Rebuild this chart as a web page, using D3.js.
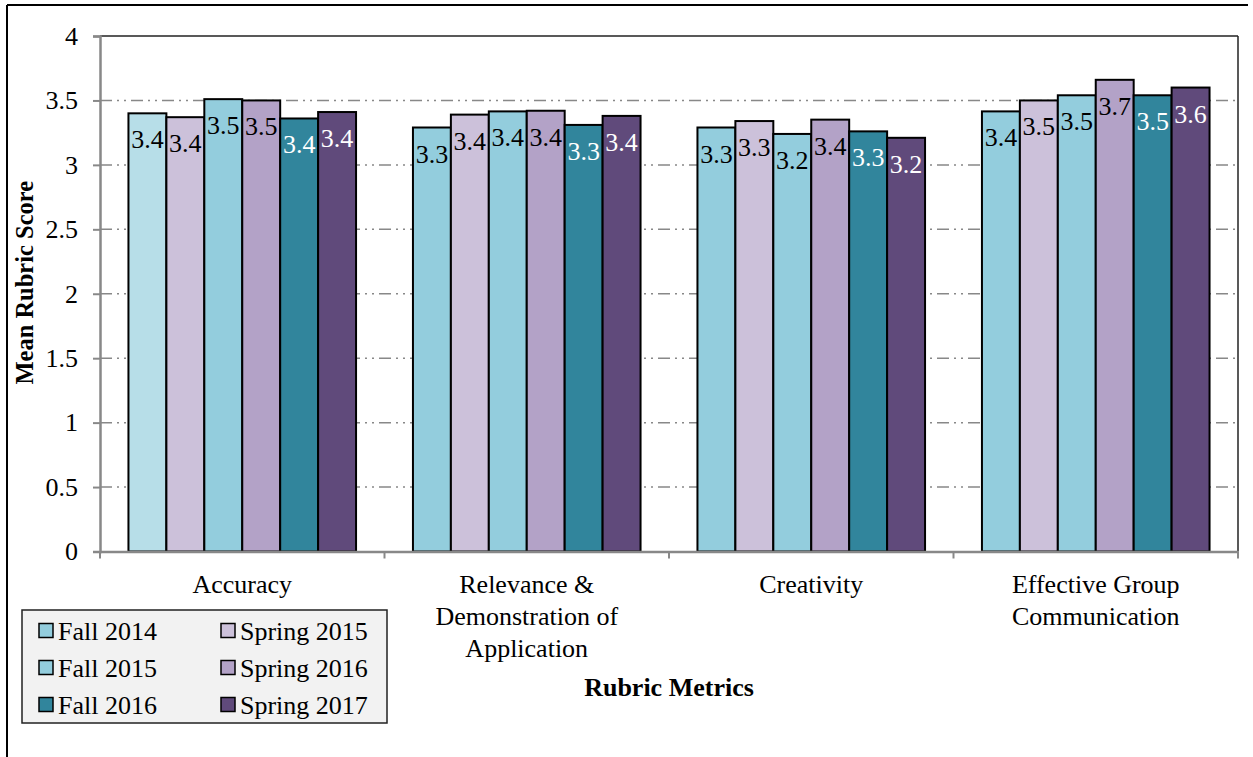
<!DOCTYPE html>
<html>
<head>
<meta charset="utf-8">
<script src="https://cdn.jsdelivr.net/npm/d3@7"></script>
<style>
  html, body { margin: 0; padding: 0; background: #fff; }
  svg { display: block; }
  text { font-family: "Liberation Serif", "Times New Roman", serif; }
</style>
</head>
<body>
<svg id="chart" width="1253" height="757"></svg>
<script>
// ---- data ----
const categories = ["Accuracy", "Relevance & Demonstration of Application", "Creativity", "Effective Group Communication"];
const categoryLines = [["Accuracy"], ["Relevance &", "Demonstration of", "Application"], ["Creativity"], ["Effective Group", "Communication"]];
const seriesNames = ["Fall 2014", "Spring 2015", "Fall 2015", "Spring 2016", "Fall 2016", "Spring 2017"];
const fall2014   = [3.40, 3.29, 3.29, 3.415];
const spring2015 = [3.37, 3.39, 3.34, 3.50];
const fall2015   = [3.51, 3.415, 3.24, 3.54];
const spring2016 = [3.50, 3.42, 3.351, 3.66];
const fall2016   = [3.36, 3.31, 3.26, 3.54];
const spring2017 = [3.41, 3.38, 3.21, 3.60];
const seriesValues = [fall2014, spring2015, fall2015, spring2016, fall2016, spring2017];
const seriesColors = ["#93CDDD", "#CCC1DA", "#93CDDD", "#B3A2C7", "#31859C", "#604A7B"];
const labelColors  = ["#000", "#000", "#000", "#000", "#fff", "#fff"];
// first Accuracy bar is drawn in a lighter blue in the original
const pointColorOverride = { "0-0": "#B7DEE8" };
const yTicks = [0, 0.5, 1, 1.5, 2, 2.5, 3, 3.5, 4];
const yTickLabels = ["0", "0.5", "1", "1.5", "2", "2.5", "3", "3.5", "4"];

// ---- layout ----
const svg = d3.select("#chart");
const pLeft = 100, pRight = 1238, pTop = 36, pBottom = 551.5;
const FS = 26;
const SERIF = "'Liberation Serif', 'Times New Roman', serif";

// outer frame (top and left edges visible)
svg.append("line").attr("x1", 7).attr("x2", 1248).attr("y1", 5).attr("y2", 5).attr("stroke", "#000").attr("stroke-width", 2);
svg.append("line").attr("x1", 7).attr("x2", 7).attr("y1", 5).attr("y2", 757).attr("stroke", "#000").attr("stroke-width", 2);

const x0 = d3.scaleBand().domain(categories).range([pLeft, pRight]).paddingInner(0).paddingOuter(0);
const x1 = d3.scaleBand().domain(seriesNames).range([0, x0.bandwidth()]).paddingInner(0).paddingOuter(0.75);
const y = d3.scaleLinear().domain([0, 4]).range([pBottom, pTop]);

// gridlines
svg.append("g").selectAll("line").data(yTicks.filter(t => t > 0 && t < 4)).join("line")
  .attr("x1", pLeft).attr("x2", pRight)
  .attr("y1", d => y(d)).attr("y2", d => y(d))
  .attr("stroke", "#888").attr("stroke-width", 1.5)
  .attr("stroke-dasharray", "12,5,2,5,2,5");

// plot border top/right
svg.append("line").attr("x1", pLeft).attr("x2", pRight).attr("y1", pTop).attr("y2", pTop).attr("stroke", "#222").attr("stroke-width", 1.5);
svg.append("line").attr("x1", pRight).attr("x2", pRight).attr("y1", pTop).attr("y2", pBottom).attr("stroke", "#222").attr("stroke-width", 1.5);

// bars
const barData = [];
seriesNames.forEach((s, si) => {
  categories.forEach((c, ci) => {
    barData.push({ s, si, c, ci, v: seriesValues[si][ci] });
  });
});
const bars = svg.append("g");
bars.selectAll("rect").data(barData).join("rect")
  .attr("x", d => x0(d.c) + x1(d.s))
  .attr("y", d => y(d.v))
  .attr("width", x1.bandwidth())
  .attr("height", d => y(0) - y(d.v))
  .attr("fill", d => pointColorOverride[d.si + "-" + d.ci] || seriesColors[d.si])
  .attr("stroke", "#000").attr("stroke-width", 2);

bars.selectAll("text").data(barData).join("text")
  .attr("x", d => x0(d.c) + x1(d.s) + x1.bandwidth() / 2)
  .attr("y", d => y(d.v) + 35)
  .attr("text-anchor", "middle")
  .attr("font-family", SERIF)
  .attr("font-size", FS)
  .attr("fill", d => labelColors[d.si])
  .text(d => d.v.toFixed(1));

// y axis
const yAxis = svg.append("g").attr("transform", `translate(${pLeft},0)`)
  .call(d3.axisLeft(y).tickValues(yTicks).tickFormat((d, i) => yTickLabels[i]).tickSize(7).tickPadding(15));
yAxis.attr("font-family", SERIF);
yAxis.select(".domain").attr("stroke", "#888").attr("stroke-width", 2.5);
yAxis.selectAll(".tick line").attr("stroke", "#888").attr("stroke-width", 2);
yAxis.selectAll(".tick text").attr("font-size", FS).attr("fill", "#000").attr("font-family", SERIF);

// x axis
const xAxis = svg.append("g").attr("transform", `translate(0,${pBottom})`)
  .call(d3.axisBottom(x0).tickValues([]).tickSizeOuter(0));
xAxis.select(".domain").attr("stroke", "#888").attr("stroke-width", 2.5);
const boundaries = [pLeft].concat(categories.map(c => x0(c) + x0.bandwidth()));
svg.append("g").selectAll("line").data(boundaries).join("line")
  .attr("x1", d => d).attr("x2", d => d)
  .attr("y1", pBottom).attr("y2", pBottom + 7)
  .attr("stroke", "#888").attr("stroke-width", 2);

// category labels
const catG = svg.append("g");
categories.forEach((c, ci) => {
  const t = catG.append("text")
    .attr("x", x0(c) + x0.bandwidth() / 2)
    .attr("y", 593)
    .attr("text-anchor", "middle")
    .attr("font-family", SERIF)
    .attr("font-size", FS)
    .attr("fill", "#000");
  categoryLines[ci].forEach((ln, li) => {
    t.append("tspan").attr("x", x0(c) + x0.bandwidth() / 2).attr("y", 593 + li * 32).text(ln);
  });
});

// axis titles
svg.append("text")
  .attr("transform", `translate(33,${(pTop + pBottom) / 2 - 11}) rotate(-90)`)
  .attr("text-anchor", "middle")
  .attr("font-family", SERIF)
  .attr("font-size", 24.5).attr("font-weight", "bold")
  .text("Mean Rubric Score");
svg.append("text")
  .attr("x", (pLeft + pRight) / 2).attr("y", 696)
  .attr("text-anchor", "middle")
  .attr("font-family", SERIF)
  .attr("font-size", FS).attr("font-weight", "bold")
  .text("Rubric Metrics");

// legend
const lg = svg.append("g");
lg.append("rect").attr("x", 22).attr("y", 610).attr("width", 365).attr("height", 113)
  .attr("fill", "#F2F2F2").attr("stroke", "#222").attr("stroke-width", 1.5);
const legendOrder = [0, 2, 4, 1, 3, 5];
legendOrder.forEach((si, k) => {
  const col = Math.floor(k / 3), row = k % 3;
  const lx = 39 + col * 182, cy = 630.5 + row * 37;
  lg.append("rect").attr("x", lx).attr("y", cy - 7).attr("width", 14).attr("height", 14)
    .attr("fill", seriesColors[si]).attr("stroke", "#000").attr("stroke-width", 1.5);
  lg.append("text").attr("x", lx + 19).attr("y", cy + 9)
    .attr("font-family", SERIF)
    .attr("font-size", FS).attr("fill", "#000").text(seriesNames[si]);
});
</script>
</body>
</html>
